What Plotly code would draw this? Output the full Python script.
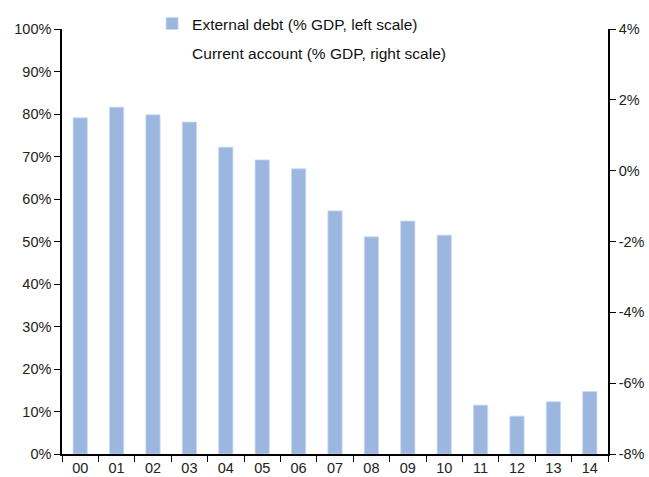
import plotly.graph_objects as go

years = ["00", "01", "02", "03", "04", "05", "06", "07", "08", "09", "10", "11", "12", "13", "14"]
external_debt = [79.1, 81.6, 79.8, 78.1, 72.2, 69.2, 67.1, 57.2, 51.1, 54.8, 51.5, 11.5, 8.9, 12.3, 14.7]
current_account = [None] * 15  # no visible line in the reference

left_ticks = [0, 10, 20, 30, 40, 50, 60, 70, 80, 90, 100]
right_ticks = [-8, -6, -4, -2, 0, 2, 4]

BAR = "#9bb6df"
FONT = "Liberation Sans, Arial, sans-serif"

W, H = 649, 477
L, R, T, B = 62, 41, 29, 23
dom_top = (H - B - T) / (H - B)

fig = go.Figure()
fig.add_trace(go.Bar(
    x=years, y=external_debt, name="External debt (% GDP, left scale)",
    marker=dict(color=BAR, line=dict(color="#c9d8ef", width=0.8)),
    width=0.39, legendgroup="a", yaxis="y",
))
fig.add_trace(go.Scatter(
    x=years, y=current_account, name="Current account (% GDP, right scale)",
    mode="lines", line=dict(color="rgba(0,0,0,0)", width=2),
    legendgroup="b", yaxis="y2", showlegend=True,
))

fig.update_layout(
    width=W, height=H,
    margin=dict(l=L, r=R, t=0, b=B),
    paper_bgcolor="white", plot_bgcolor="white",
    font=dict(family=FONT, size=14.5, color="#222222"),
    showlegend=True,
    legend=dict(x=0.165, y=1 - 7 / (H - B), xanchor="left", yanchor="top",
                bgcolor="rgba(0,0,0,0)", font=dict(size=15.5, color="#111111"),
                tracegroupgap=6, itemwidth=30),
    xaxis=dict(type="category", showline=True, linecolor="black", linewidth=1.5,
               ticks="outside", tickson="boundaries", ticklen=6, tickcolor="black",
               showgrid=False, tickfont=dict(size=14.5), range=[-0.5, 14.5],
               automargin=False),
    yaxis=dict(range=[0, 100], tickvals=left_ticks, domain=[0, dom_top],
               ticktext=[f"{v}%" for v in left_ticks],
               showline=True, linecolor="black", linewidth=1.5,
               ticks="outside", ticklen=6, tickcolor="black", showgrid=False,
               zeroline=False, automargin=False),
    yaxis2=dict(range=[-8, 4], tickvals=right_ticks, domain=[0, dom_top],
                ticktext=[f"{v}%" for v in right_ticks], overlaying="y", side="right",
                showline=True, linecolor="black", linewidth=1.5,
                ticks="outside", ticklen=6, tickcolor="black", showgrid=False,
                zeroline=False, automargin=False),
    bargap=0.6,
)

fig.write_html("out.html")
